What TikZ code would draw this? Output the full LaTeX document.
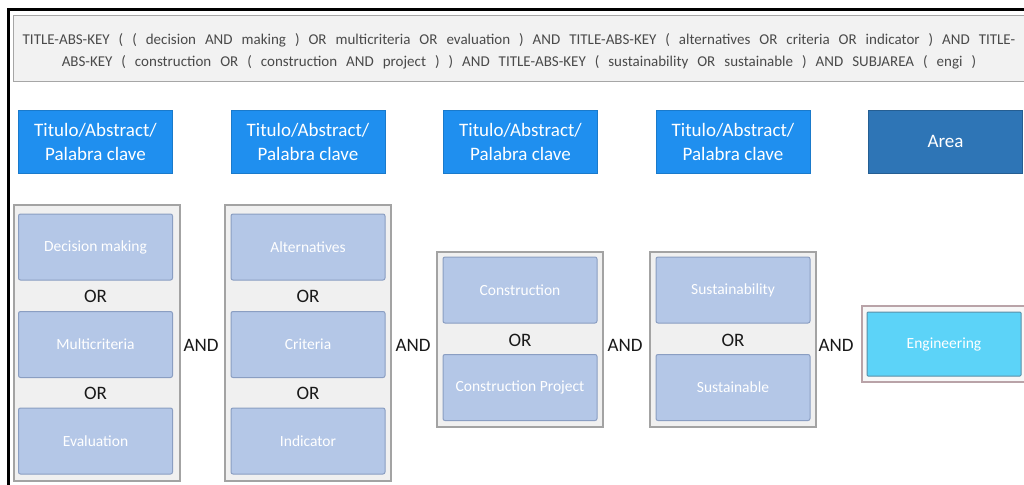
\documentclass[tikz,border=0pt]{standalone}
\usepackage{fontspec}
\setmainfont{Carlito}
\definecolor{hdrblue}{HTML}{1F8FEF}
\definecolor{areablue}{HTML}{2E75B6}
\definecolor{termfill}{HTML}{B4C7E7}
\definecolor{termline}{HTML}{8A9EC2}
\definecolor{groupfill}{HTML}{F0F0F0}
\definecolor{groupline}{HTML}{A3A3A3}
\definecolor{engfill}{HTML}{5CD3F8}
\definecolor{engline}{HTML}{5A8FA8}
\definecolor{engframe}{HTML}{B9A3A8}
\definecolor{querytext}{HTML}{4A4A4A}
\newcommand\queryfont{\fontsize{15}{22}\selectfont\spaceskip=0.6em plus 0.1em\relax}
\tikzset{
  header/.style={fill=hdrblue, draw=hdrblue!85!black, line width=0.6pt,
    minimum width=154pt, minimum height=63pt, inner sep=0pt,
    text=white, align=center, font=\fontsize{19}{24}\selectfont},
  areabox/.style={header, fill=areablue, draw=areablue!80!black},
  groupbox/.style={fill=groupfill, draw=groupline, line width=1.2pt,
    minimum width=166pt, inner sep=0pt},
  termbox/.style={fill=termfill, draw=termline, line width=1pt, rounded corners=2pt,
    minimum width=154pt, minimum height=66pt, inner sep=0pt,
    text=white, font=\fontsize{15.5}{17}\selectfont},
  orlabel/.style={text=black!90, font=\fontsize{19}{21}\selectfont, inner sep=0pt},
  andlabel/.style={text=black!90, font=\fontsize{19}{21}\selectfont, inner sep=0pt},
  querybox/.style={fill=black!5, draw=black!35, line width=1pt},
}
\begin{document}
\begin{tikzpicture}[x=1pt,y=-1pt]
\useasboundingbox (0,0) rectangle (1024,484);
\fill[white] (0,0) rectangle (1024,484);

% outer frame (left and top edges)
\draw[line width=2.5pt] (8.5,490) -- (8.5,9.5) -- (1030,9.5);

% search string
\node[querybox, minimum width=1030pt, minimum height=66pt, anchor=north west] (qbox) at (13,15) {};
\node[text=querytext, align=center, inner sep=0pt, font=\queryfont] (query) at (519,51)
  {TITLE-ABS-KEY ( ( decision AND making ) OR multicriteria OR evaluation ) AND TITLE-ABS-KEY ( alternatives OR criteria OR indicator ) AND TITLE-\\
   ABS-KEY ( construction OR ( construction AND project ) ) AND TITLE-ABS-KEY ( sustainability OR sustainable ) AND SUBJAREA ( engi )};

% field headers
\node[header] (h1) at (95.5,141.5) {Titulo/Abstract/\\Palabra clave};
\node[header] (h2) at (308,141.5) {Titulo/Abstract/\\Palabra clave};
\node[header] (h3) at (520.5,141.5) {Titulo/Abstract/\\Palabra clave};
\node[header] (h4) at (733,141.5) {Titulo/Abstract/\\Palabra clave};
\node[areabox] (h5) at (945.5,141.5) {Area};

% group 1
\node[groupbox, minimum height=276pt] (g1) at (97,343) {};
\node[termbox] (t11) at (95.5,247) {Decision making};
\node[orlabel] (o11) at (95.5,296) {OR};
\node[termbox] (t12) at (95.5,344.5) {Multicriteria};
\node[orlabel] (o12) at (95.5,393) {OR};
\node[termbox] (t13) at (95.5,441) {Evaluation};

% group 2
\node[groupbox, minimum height=276pt] (g2) at (308,343) {};
\node[termbox] (t21) at (308,247) {Alternatives};
\node[orlabel] (o21) at (308,296) {OR};
\node[termbox] (t22) at (308,344.5) {Criteria};
\node[orlabel] (o22) at (308,393) {OR};
\node[termbox] (t23) at (308,441) {Indicator};

% group 3
\node[groupbox, minimum height=175pt] (g3) at (520,339.5) {};
\node[termbox] (t31) at (520,290) {Construction};
\node[orlabel] (o31) at (520,340) {OR};
\node[termbox] (t32) at (520,387.5) {Construction Project};

% group 4
\node[groupbox, minimum height=175pt] (g4) at (733,339.5) {};
\node[termbox] (t41) at (733,290) {Sustainability};
\node[orlabel] (o41) at (733,340) {OR};
\node[termbox] (t42) at (733,387.5) {Sustainable};

% subject area
\node[groupbox, draw=engframe, fill=black!3, minimum width=168pt, minimum height=76pt] (g5) at (946,344) {};
\node[termbox, fill=engfill, draw=engline, rounded corners=1pt, minimum height=64pt] (t51) at (944,344) {Engineering};

% operators between groups
\node[andlabel] (a1) at (201,345) {AND};
\node[andlabel] (a2) at (413,345) {AND};
\node[andlabel] (a3) at (625,345) {AND};
\node[andlabel] (a4) at (836,345) {AND};
\end{tikzpicture}
\end{document}
